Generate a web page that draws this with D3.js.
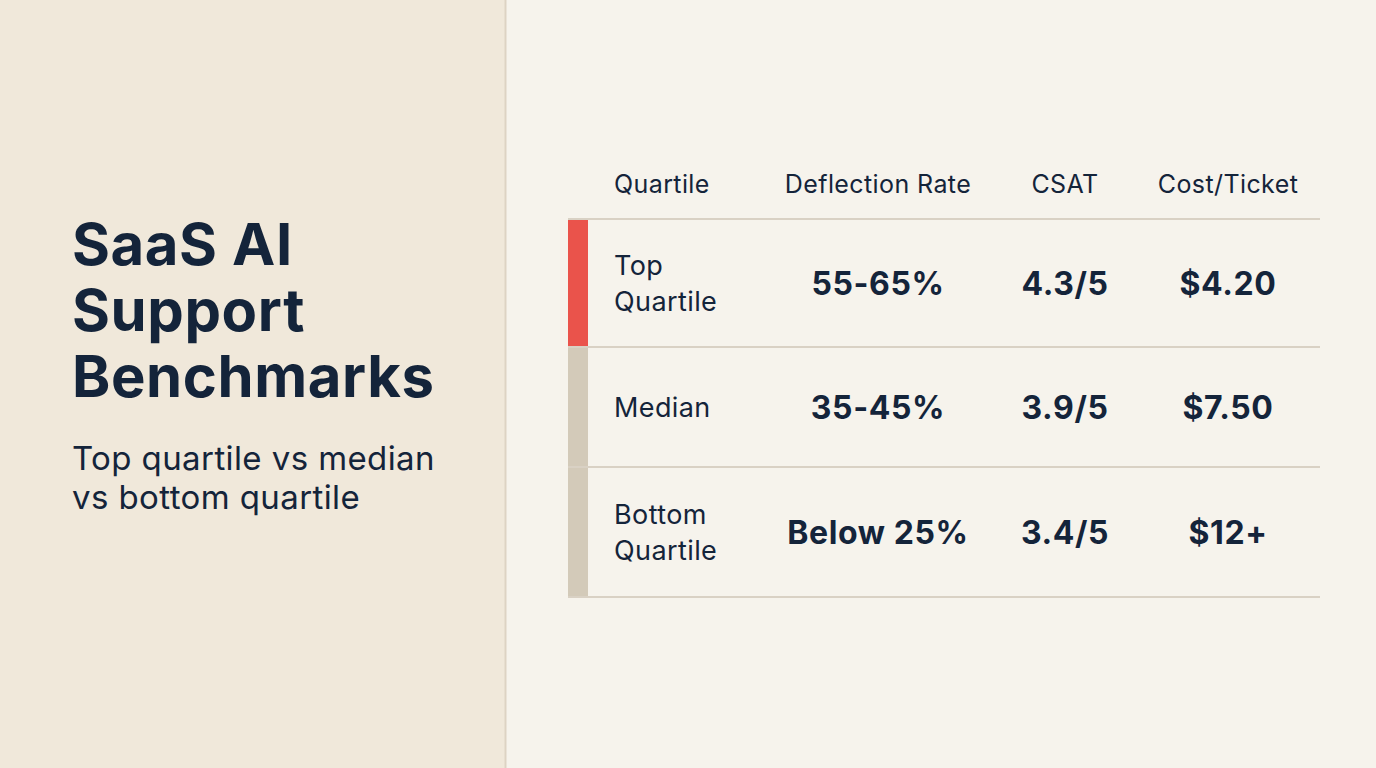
<!DOCTYPE html><html><head><meta charset="utf-8"><script src="https://cdn.jsdelivr.net/npm/d3@7/dist/d3.min.js"></script>
<style>body{margin:0}svg{display:block}</style></head><body><script>
const headers=["Quartile","Deflection Rate","CSAT","Cost/Ticket"];
const quartiles=[["Top","Quartile"],["Median"],["Bottom","Quartile"]];
const deflection=["55-65%","35-45%","Below 25%"];
const csat=["4.3/5","3.9/5","3.4/5"];
const cost=["$4.20","$7.50","$12+"];
const W=1376,H=768,F="Inter, 'Noto Sans', sans-serif",ink="#14243a";
const svg=d3.select("body").append("svg").attr("width",W).attr("height",H);
svg.append("rect").attr("width",W).attr("height",H).attr("fill","#f6f3ec");
svg.append("rect").attr("width",505).attr("height",H).attr("fill","#f0e8da");
svg.append("line").attr("x1",505.5).attr("x2",505.5).attr("y1",0).attr("y2",H).attr("stroke","#ddd3c3").attr("stroke-width",2);
const t=svg.append("text").attr("font-family",F).attr("font-weight",700).attr("font-size",58).attr("fill",ink).attr("letter-spacing",0.6);
["SaaS AI","Support","Benchmarks"].forEach((s,i)=>t.append("tspan").attr("x",72).attr("y",265+i*66).text(s));
const st=svg.append("text").attr("font-family",F).attr("font-size",33).attr("fill",ink).attr("letter-spacing",0.4);
["Top quartile vs median","vs bottom quartile"].forEach((s,i)=>st.append("tspan").attr("x",72).attr("y",470+i*39).text(s));
const rowY=[219,347,467,597];
const y=d3.scaleOrdinal().domain([0,1,2]).range([0,1,2].map(i=>(rowY[i]+rowY[i+1])/2));
const colX=[614,878,1065,1228];
headers.forEach((h,i)=>svg.append("text").attr("x",colX[i]).attr("y",193).attr("text-anchor",i?"middle":"start").attr("font-family",F).attr("font-size",25).attr("letter-spacing",0.4).attr("fill",ink).text(h));
[0,1,2].forEach(i=>{
 svg.append("rect").attr("x",568).attr("y",rowY[i]).attr("width",20).attr("height",rowY[i+1]-rowY[i]).attr("fill",i==0?"#ea534b":"#d3cab9");
 const q=svg.append("text").attr("font-family",F).attr("font-size",27).attr("letter-spacing",0.4).attr("fill",ink);
 const n=quartiles[i].length;
 quartiles[i].forEach((s,j)=>q.append("tspan").attr("x",614).attr("y",y(i)+10+(j-(n-1)/2)*36).text(s));
 [deflection,csat,cost].forEach((arr,k)=>svg.append("text").attr("x",colX[k+1]).attr("y",y(i)+12).attr("text-anchor","middle").attr("font-family",F).attr("font-weight",700).attr("font-size",32).attr("letter-spacing",0.6).attr("fill",ink).text(arr[i]));
});
rowY.forEach(v=>svg.append("line").attr("x1",568).attr("x2",1320).attr("y1",v).attr("y2",v).attr("stroke","#d9d1c4").attr("stroke-width",2));
</script></body></html>
